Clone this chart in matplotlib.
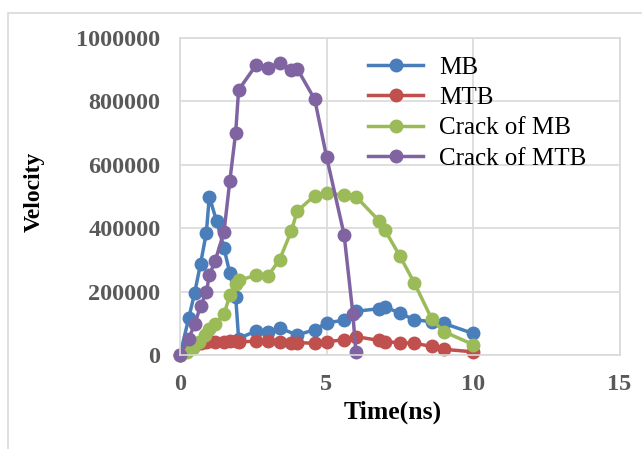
import matplotlib
matplotlib.use("Agg")
import matplotlib.pyplot as plt
from matplotlib.patches import Rectangle

# values
mb_t = [0, 0.3, 0.5, 0.7, 0.9, 1.0, 1.25, 1.5, 1.7, 1.9, 2.0, 2.6, 3.0, 3.4, 4.0,
        4.6, 5.0, 5.6, 6.0, 6.8, 7.0, 7.5, 8.0, 8.6, 9.0, 10]
mb_v = [0, 117000, 196000, 287000, 386000, 500000, 422000, 338000, 258000, 184000,
        52000, 76000, 74000, 85000, 63000, 80000, 101000, 110000, 138000, 146000,
        152000, 132000, 111000, 105000, 100000, 68000]

mtb_t = [0, 0.3, 0.5, 0.7, 0.9, 1.0, 1.2, 1.5, 1.7, 1.9, 2.0, 2.6, 3.0, 3.4, 3.8,
         4.0, 4.6, 5.0, 5.6, 6.0, 6.8, 7.0, 7.5, 8.0, 8.6, 9.0, 10]
mtb_v = [0, 20000, 30000, 38000, 40000, 44000, 42000, 42000, 44000, 43000, 41000,
         44000, 44000, 41000, 39000, 39000, 37000, 42000, 48000, 58000, 46000,
         42000, 39000, 37000, 27000, 18000, 10000]

crack_mb_t = [0, 0.25, 0.45, 0.65, 0.85, 1.0, 1.2, 1.5, 1.7, 1.9, 2.0, 2.6, 3.0,
              3.4, 3.8, 4.0, 4.6, 5.0, 5.6, 6.0, 6.8, 7.0, 7.5, 8.0, 8.6, 9.0, 10]
crack_mb_v = [0, 8000, 22000, 40000, 64000, 82000, 97000, 128000, 188000, 224000,
              236000, 251000, 249000, 301000, 391000, 454000, 503000, 510000,
              505000, 500000, 423000, 393000, 313000, 227000, 112000, 74000, 33000]

crack_mtb_t = [0, 0.3, 0.5, 0.7, 0.9, 1.0, 1.2, 1.5, 1.7, 1.9, 2.0, 2.6, 3.0, 3.4,
               3.8, 4.0, 4.6, 5.0, 5.6, 5.9, 6.0]
crack_mtb_v = [0, 52000, 97000, 154000, 198000, 251000, 297000, 387000, 549000,
               701000, 836000, 915000, 905000, 922000, 898000, 903000, 806000,
               626000, 380000, 130000, 10000]

series = [
    ("MB", mb_t, mb_v, "#4A7EBB"),
    ("MTB", mtb_t, mtb_v, "#C0504D"),
    ("Crack of MB", crack_mb_t, crack_mb_v, "#9BBB59"),
    ("Crack of MTB", crack_mtb_t, crack_mtb_v, "#8064A2"),
]

x_ticks = [0, 5, 10, 15]
y_ticks = [0, 200000, 400000, 600000, 800000, 1000000]

plt.rcParams["font.family"] = ["Liberation Serif", "DejaVu Serif"]
grid_col = "#D9D9D9"

fig = plt.figure(figsize=(6.42, 4.49), dpi=100)
ax = fig.add_axes([180 / 642, 1 - 355 / 449, 439.5 / 642, 317 / 449])

for name, t, v, col in series:
    ax.plot(t, v, color=col, lw=2.5, marker="o", ms=9, label=name, clip_on=False)

ax.set_xlim(0, 15)
ax.set_ylim(0, 1000000)
ax.set_xticks(x_ticks)
ax.set_yticks(y_ticks)
ax.set_yticklabels([str(v) for v in y_ticks])
ax.grid(True, color=grid_col, lw=1.2)
ax.set_axisbelow(True)
for s in ax.spines.values():
    s.set_color(grid_col)
    s.set_linewidth(1.2)
ax.tick_params(length=0, labelsize=17.5, labelcolor="#595959", pad=14)
for lab in ax.get_xticklabels() + ax.get_yticklabels():
    lab.set_fontweight("bold")

ax.set_xlabel("Time(ns)", fontsize=18.5, fontweight="bold")
ax.xaxis.set_label_coords((393 - 180) / 439.5, -(412 - 355) / 317)
ax.set_ylabel("Velocity", fontsize=17, fontweight="bold")
ax.yaxis.set_label_coords(-(180 - 34) / 439.5, (355 - 192) / 317)
ax.xaxis.label.set_va("center")
ax.yaxis.label.set_va("center")

leg = ax.legend(loc="upper left", bbox_to_anchor=((368 - 180) / 439.5, (355 - 56) / 317),
                frameon=False, fontsize=18, handlelength=2.2, handletextpad=0.65,
                labelspacing=0.32, borderpad=0, borderaxespad=0)

# outer chart frame, cut by the right and bottom edges of the picture
fig.add_artist(Rectangle((8 / 642, -0.2), 1.2, 1.2 - 13 / 449, transform=fig.transFigure,
                         fill=False, ec=grid_col, lw=1.2))

fig.savefig("out.png", dpi=100)
